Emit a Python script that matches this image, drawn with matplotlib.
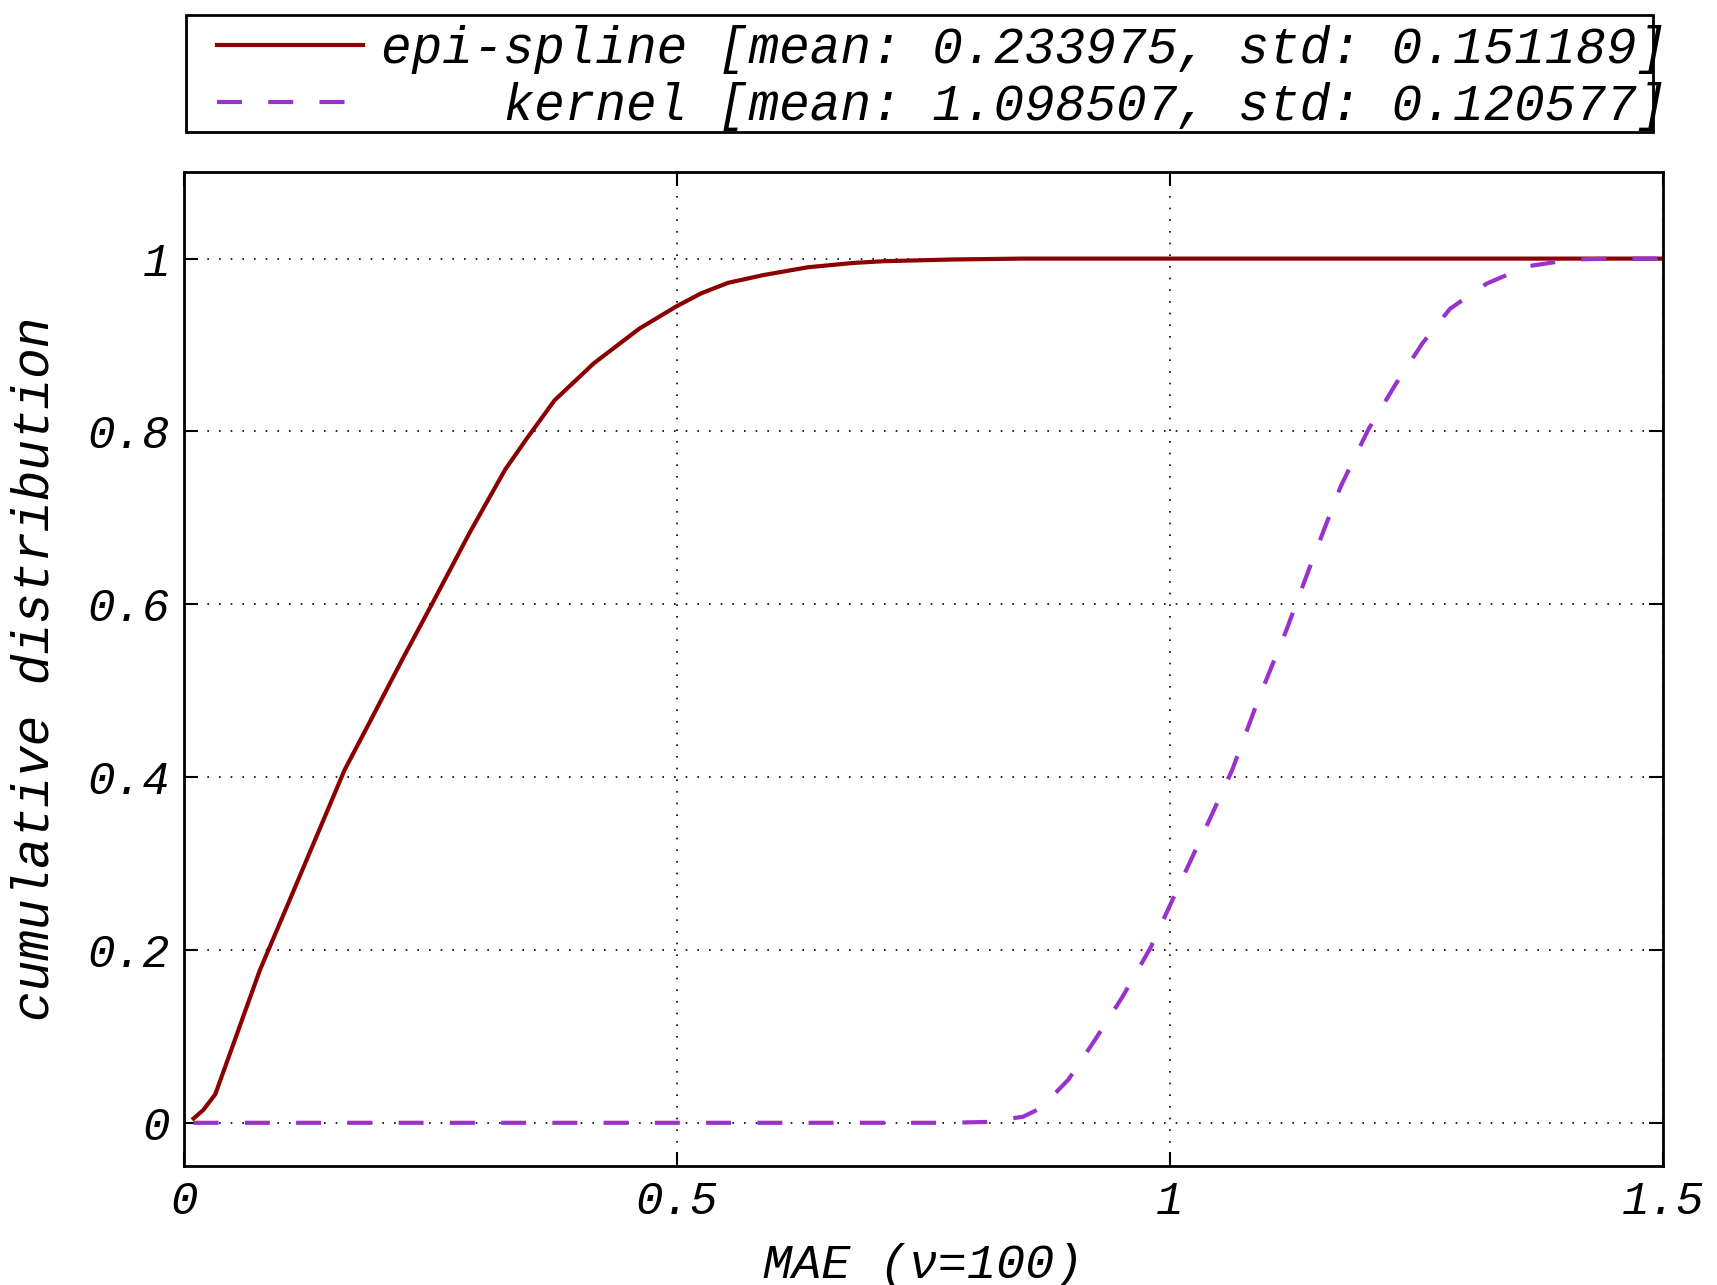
import matplotlib.pyplot as plt
from matplotlib.patches import Rectangle

plt.rcParams['font.family'] = ['Liberation Mono', 'DejaVu Sans Mono']
plt.rcParams['font.style'] = 'italic'

epi_x = [0.010, 0.020, 0.032, 0.050, 0.077, 0.109, 0.136, 0.163, 0.186, 0.222,
         0.253, 0.290, 0.326, 0.348, 0.376, 0.416, 0.462, 0.500, 0.525, 0.552,
         0.588, 0.633, 0.679, 0.710, 0.780, 0.850, 1.000, 1.500]
epi_y = [0.005, 0.015, 0.033, 0.090, 0.176, 0.262, 0.335, 0.408, 0.458, 0.537,
         0.603, 0.683, 0.756, 0.792, 0.836, 0.879, 0.919, 0.945, 0.960, 0.972,
         0.981, 0.990, 0.995, 0.997, 0.999, 1.000, 1.000, 1.000]

ker_x = [0.010, 0.777, 0.814, 0.851, 0.869, 0.897, 0.924, 0.952, 0.980, 1.007,
         1.035, 1.063, 1.090, 1.118, 1.146, 1.173, 1.201, 1.229, 1.256, 1.284,
         1.321, 1.362, 1.408, 1.450, 1.500]
ker_y = [0.000, 0.000, 0.001, 0.007, 0.017, 0.050, 0.096, 0.146, 0.202, 0.269,
         0.338, 0.408, 0.491, 0.570, 0.656, 0.736, 0.802, 0.855, 0.902, 0.942,
         0.971, 0.991, 0.999, 1.000, 1.000]

labels = ['epi-spline [mean: 0.233975, std: 0.151189]',
          '    kernel [mean: 1.098507, std: 0.120577]']

W, H = 1717, 1285
fig = plt.figure(figsize=(W / 100, H / 100), dpi=100)
ax = fig.add_axes([0.107, 0.0926, 0.8616, 0.7734])

l1, = ax.plot(epi_x, epi_y, color='#8B0000', lw=3)
l2, = ax.plot(ker_x, ker_y, color='#9932CC', lw=3, linestyle=(0, (6, 6.3)))

ax.set_xlim(0, 1.5)
ax.set_ylim(-0.05, 1.1)
ax.set_xticks([0, 0.5, 1, 1.5])
ax.set_xticklabels(['0', '0.5', '1', '1.5'])
ax.set_yticks([0, 0.2, 0.4, 0.6, 0.8, 1])
ax.set_yticklabels(['0', '0.2', '0.4', '0.6', '0.8', '1'])
ax.tick_params(direction='in', top=True, right=True, length=10, width=1.5,
               labelsize=33, pad=10)
ax.grid(True, linestyle=(0, (1, 6)), color='black', linewidth=1.2)
for s in ax.spines.values():
    s.set_linewidth(2)

ax.set_xlabel('MAE (ν=100)', fontsize=35, labelpad=14)
ax.set_ylabel('cumulative distribution', fontsize=36.7, labelpad=20)

# legend box drawn separately (text runs slightly past it, as in the original)
fig.patches.append(Rectangle((186 / W, 1 - 132 / H), (1653 - 186) / W, 117 / H,
                             transform=fig.transFigure, fill=False,
                             edgecolor='black', linewidth=2))
fig.legend([l1, l2], labels, loc='upper left',
           bbox_to_anchor=(217 / W, 1 - 25 / H),
           fontsize=36.7, handlelength=2.87, labelspacing=0.16,
           borderpad=0, borderaxespad=0, handletextpad=0.34, frameon=False)

fig.savefig('out.png', dpi=100)
